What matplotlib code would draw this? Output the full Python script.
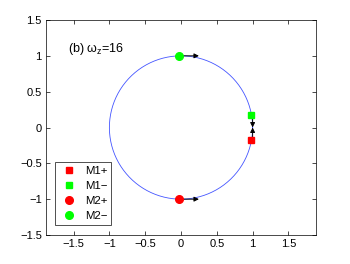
import numpy as np
import matplotlib
matplotlib.use("Agg")
import matplotlib.pyplot as plt

plt.rcParams["font.family"] = ["Liberation Sans", "DejaVu Sans"]
plt.rcParams["mathtext.fontset"] = "custom"
plt.rcParams["mathtext.rm"] = "Liberation Sans"
plt.rcParams["mathtext.it"] = "Liberation Sans"

# trajectory on the unit circle
theta = np.linspace(0, 2 * np.pi, 400)
circle_x = np.cos(theta)
circle_y = np.sin(theta)

# mode positions
labels = ["M1+", "M1\u2212", "M2+", "M2\u2212"]
pos_x = [0.98, 0.98, -0.03, -0.03]
pos_y = [-0.18, 0.18, -1.0, 1.0]
colors = ["#ff0000", "#00ff00", "#ff0000", "#00ff00"]
markers = ["s", "s", "o", "o"]

# flow arrows (start, direction)
arrow_x = [0.0, 0.0, 1.0, 1.0]
arrow_y = [1.0, -1.0, 0.16, -0.16]
arrow_u = [0.25, 0.25, 0.0, 0.0]
arrow_v = [0.0, 0.0, -0.16, 0.16]

fig = plt.figure(figsize=(3.5, 2.64), dpi=100)
ax = fig.add_axes([46 / 350, 29 / 264, 270 / 350, 215 / 264])

ax.plot(circle_x, circle_y, color="#4455ff", lw=0.6)

for x0, y0, u, v in zip(arrow_x, arrow_y, arrow_u, arrow_v):
    ax.annotate("", xy=(x0 + u, y0 + v), xytext=(x0, y0),
                arrowprops=dict(arrowstyle="-|>", color="black", lw=0.7,
                                mutation_scale=7, shrinkA=0, shrinkB=0))

for lab, x, y, c, m in zip(labels, pos_x, pos_y, colors, markers):
    ax.plot(x, y, linestyle="none", marker=m, color=c, markersize=5 if m == "s" else 5.5,
            label=lab, zorder=5)

ax.text(-1.58, 1.10, r"(b) $\mathregular{\omega_z}$=16", fontsize=9, va="center", ha="left")

ax.set_xlim(-1.885, 1.885)
ax.set_ylim(-1.5, 1.5)
ax.set_xticks([-1.5, -1, -0.5, 0, 0.5, 1, 1.5])
ax.set_xticklabels(["\u22121.5", "\u22121", "\u22120.5", "0", "0.5", "1", "1.5"])
ax.set_yticks([-1.5, -1, -0.5, 0, 0.5, 1, 1.5])
ax.set_yticklabels(["\u22121.5", "\u22121", "\u22120.5", "0", "0.5", "1", "1.5"])
ax.tick_params(direction="in", top=True, right=True, labelsize=8, length=3, width=0.5, pad=3)
for sp in ax.spines.values():
    sp.set_linewidth(0.5)

leg = ax.legend(loc="lower left", bbox_to_anchor=(0.02, 0.03), fontsize=8.2, frameon=True,
                fancybox=False, edgecolor="black", handlelength=1.8, handletextpad=0.5,
                borderpad=0.35, labelspacing=0.45, numpoints=1, borderaxespad=0.3)
leg.get_frame().set_linewidth(0.6)

fig.savefig("out.png", dpi=100)
